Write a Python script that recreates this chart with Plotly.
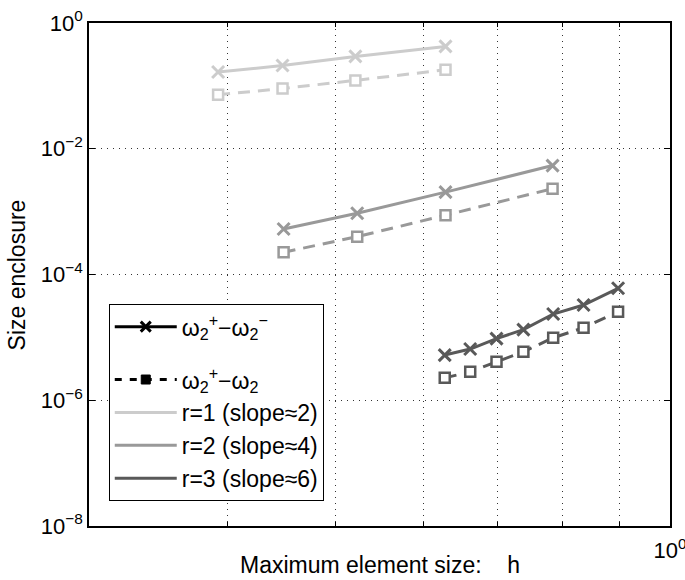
import plotly.graph_objects as go

# mesh sizes h for each order
h_r1 = [0.392, 0.448, 0.521, 0.628]
h_r2 = [0.449, 0.523, 0.628, 0.784]
h_r3 = [0.627, 0.661, 0.698, 0.738, 0.785, 0.836, 0.898]

# enclosure sizes: omega2+ - omega2- (crosses) and omega2+ - omega2 (squares)
full_r1 = [0.166, 0.211, 0.294, 0.424]
half_r1 = [0.0722, 0.0909, 0.122, 0.1805]
full_r2 = [5.30e-4, 9.44e-4, 2.04e-3, 5.40e-3]
half_r2 = [2.26e-4, 4.00e-4, 8.77e-4, 2.32e-3]
full_r3 = [5.23e-6, 6.52e-6, 9.57e-6, 1.33e-5, 2.35e-5, 3.27e-5, 6.03e-5]
half_r3 = [2.27e-6, 2.83e-6, 4.09e-6, 5.90e-6, 9.86e-6, 1.42e-5, 2.56e-5]

labels_r = ['r=1 (slope\u22482)', 'r=2 (slope\u22484)', 'r=3 (slope\u22486)']
colors = ['#cccccc', '#999999', '#595959']

ytick_vals = [1e-8, 1e-6, 1e-4, 1e-2, 1]
ytick_text = ['10<sup>\u22128</sup>', '10<sup>\u22126</sup>', '10<sup>\u22124</sup>',
              '10<sup>\u22122</sup>', '10<sup>0</sup>']
xminor = [0.4, 0.5, 0.6, 0.7, 0.8, 0.9]

fig = go.Figure()

series = [(h_r1, full_r1, half_r1), (h_r2, full_r2, half_r2), (h_r3, full_r3, half_r3)]
for (hs, full, half), c in zip(series, colors):
    fig.add_trace(go.Scatter(
        x=hs, y=full, mode='lines+markers', showlegend=False,
        line=dict(color=c, width=3),
        marker=dict(symbol='x-thin-open', size=12, line=dict(color=c, width=3))))
    fig.add_trace(go.Scatter(
        x=hs, y=half, mode='lines+markers', showlegend=False,
        line=dict(color=c, width=3, dash='12px,8px'),
        marker=dict(symbol='square', size=10, color='white', line=dict(color=c, width=2.5))))

# legend entries
fig.add_trace(go.Scatter(
    x=[None], y=[None], mode='lines+markers', legendgroup='a',
    name='\u03c9<sub>2</sub><sup>+</sup>\u2212\u03c9<sub>2</sub><sup>\u2212</sup>',
    line=dict(color='black', width=3),
    marker=dict(symbol='x-thin-open', size=10, line=dict(color='black', width=3))))
fig.add_trace(go.Scatter(
    x=[None], y=[None], mode='lines+markers', legendgroup='b',
    name='\u03c9<sub>2</sub><sup>+</sup>\u2212\u03c9<sub>2</sub>',
    line=dict(color='black', width=3, dash='7px,8px'),
    marker=dict(symbol='square', size=9, color='black', line=dict(color='black', width=1))))
for lab, c in zip(labels_r, colors):
    fig.add_trace(go.Scatter(x=[None], y=[None], mode='lines', name=lab, legendgroup='b',
                             line=dict(color=c, width=3)))

fig.update_layout(
    width=685, height=580,
    margin=dict(l=89, r=15, t=23, b=54),
    plot_bgcolor='white', paper_bgcolor='white',
    font=dict(family='Liberation Sans, Arial, sans-serif', size=22, color='black'),
    legend=dict(x=0.034, y=0.441, xanchor='left', yanchor='top',
                bordercolor='black', borderwidth=1, bgcolor='white',
                font=dict(size=23), tracegroupgap=20, itemwidth=62),
    annotations=[
        dict(text='Maximum element size:\u00a0\u00a0\u00a0\u00a0h', xref='paper', yref='paper',
             x=0.5, y=-0.078, xanchor='center', yanchor='middle', showarrow=False,
             font=dict(size=23)),
        dict(text='Size enclosure', xref='paper', yref='paper', textangle=-90,
             x=-0.124, y=0.5, xanchor='center', yanchor='middle', showarrow=False,
             font=dict(size=23)),
    ],
)

fig.update_xaxes(
    type='log', range=[-0.5229, 0], automargin=False,
    tickvals=[1], ticktext=['10<sup>0</sup>'], ticklabelstandoff=4,
    ticklabeloverflow='allow',
    ticks='inside', ticklen=6, tickcolor='black',
    showline=True, linecolor='black', linewidth=1.5, mirror='ticks',
    showgrid=False, zeroline=False,
    minor=dict(tickvals=xminor, showgrid=True, gridcolor='#333333', griddash='1px,5px',
               gridwidth=1, ticks='inside', ticklen=4, tickcolor='black'),
    tickfont=dict(size=22),
)
fig.update_yaxes(
    type='log', range=[-8, 0], automargin=False,
    tickvals=ytick_vals, ticktext=ytick_text, ticklabeloverflow='allow',
    ticks='inside', ticklen=6, tickcolor='black',
    showline=True, linecolor='black', linewidth=1.5, mirror='ticks',
    showgrid=True, gridcolor='#333333', griddash='1px,5px', gridwidth=1,
    zeroline=False,
    tickfont=dict(size=22),
)

# drop the default body margin so the figure fills the window
fig.write_html("out.html", config={'displayModeBar': False},
               post_script="document.body.style.margin='0px';")
